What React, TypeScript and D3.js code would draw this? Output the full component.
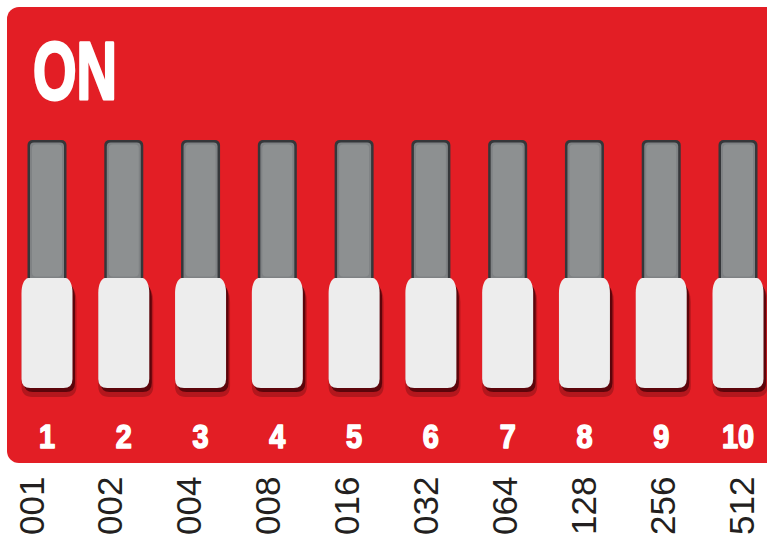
import { useEffect, useRef } from 'react';
import * as d3 from 'd3';

const switchNumbers = ['1', '2', '3', '4', '5', '6', '7', '8', '9', '10'];
const switchValues = ['001', '002', '004', '008', '016', '032', '064', '128', '256', '512'];
const boardLabel = 'ON';

const WIDTH = 767;
const HEIGHT = 536;
const BOLD_FONT = '"Liberation Sans", Arial, sans-serif';

function sliderPath(cx: number, y0: number, y1: number) {
  const hw = 25.5;
  const top = 19;
  const r = 9;
  const p = d3.path();
  p.moveTo(cx - top, y0);
  p.lineTo(cx + top, y0);
  p.bezierCurveTo(cx + 23, y0 + 1, cx + hw, y0 + 7, cx + hw, y0 + 15);
  p.lineTo(cx + hw, y1 - r);
  p.quadraticCurveTo(cx + hw, y1, cx + hw - r, y1);
  p.lineTo(cx - hw + r, y1);
  p.quadraticCurveTo(cx - hw, y1, cx - hw, y1 - r);
  p.lineTo(cx - hw, y0 + 15);
  p.bezierCurveTo(cx - hw, y0 + 7, cx - 23, y0 + 1, cx - top, y0);
  p.closePath();
  return p.toString();
}

export default function App() {
  const svgRef = useRef<SVGSVGElement>(null);

  useEffect(() => {
    if (!svgRef.current) return;
    const svg = d3.select(svgRef.current);
    svg.selectAll('*').remove();

    const x = d3.scalePoint<string>().domain(switchNumbers).range([47, 738]);
    const xLabel = d3.scalePoint<string>().domain(switchValues).range([31, 741]);

    // red board, runs off the right edge
    svg
      .append('rect')
      .attr('x', 7)
      .attr('y', 7)
      .attr('width', 800)
      .attr('height', 456)
      .attr('rx', 12)
      .attr('fill', '#e31e25');

    // heavy condensed title, thickened with a stroke
    svg
      .append('text')
      .attr('x', 33)
      .attr('y', 99)
      .attr('font-family', BOLD_FONT)
      .attr('font-weight', 900)
      .attr('font-size', 82)
      .attr('textLength', 84)
      .attr('lengthAdjust', 'spacingAndGlyphs')
      .attr('fill', '#ffffff')
      .attr('stroke', '#ffffff')
      .attr('stroke-width', 3)
      .attr('stroke-linejoin', 'round')
      .text(boardLabel);

    const sw = svg
      .selectAll('g.switch')
      .data(switchNumbers)
      .enter()
      .append('g')
      .attr('class', 'switch')
      .attr('transform', (d) => `translate(${x(d)},0)`);

    // track
    sw.append('rect')
      .attr('x', -19.5)
      .attr('y', 140)
      .attr('width', 39)
      .attr('height', 155)
      .attr('rx', 5)
      .attr('fill', '#35373a');
    sw.append('rect')
      .attr('x', -17)
      .attr('y', 142.5)
      .attr('width', 34)
      .attr('height', 150)
      .attr('rx', 4)
      .attr('fill', '#7f8284');
    sw.append('rect')
      .attr('x', -15)
      .attr('y', 144.5)
      .attr('width', 30)
      .attr('height', 132)
      .attr('rx', 4)
      .attr('fill', '#8d9091');

    // slider shadows
    sw.append('path')
      .attr('d', sliderPath(0, 280, 388))
      .attr('transform', 'translate(2,7)')
      .attr('fill', '#b3171d')
      .attr('stroke', '#b3171d')
      .attr('stroke-width', 4);
    sw.append('path')
      .attr('d', sliderPath(0, 280, 388))
      .attr('transform', 'translate(2.5,4)')
      .attr('fill', '#5c050b');

    // slider
    sw.append('path')
      .attr('d', sliderPath(0, 278, 388))
      .attr('fill', '#ededed');

    // switch numbers, condensed bold
    sw.append('text')
      .attr('transform', 'translate(0,448) scale(0.85,1)')
      .attr('text-anchor', 'middle')
      .attr('font-family', BOLD_FONT)
      .attr('font-weight', 900)
      .attr('font-size', 34)
      .attr('fill', '#ffffff')
      .attr('stroke', '#ffffff')
      .attr('stroke-width', 1.6)
      .attr('stroke-linejoin', 'round')
      .text((d) => d);

    // binary values below the board
    svg
      .selectAll('text.value')
      .data(switchValues)
      .enter()
      .append('text')
      .attr('class', 'value')
      .attr('transform', (d) => `translate(${xLabel(d)! + 12.5},535) rotate(-90)`)
      .attr('font-family', '"Liberation Sans", Arial, sans-serif')
      .attr('font-size', 35)
      .attr('fill', '#231f20')
      .text((d) => d);
  }, []);

  return (
    <svg
      ref={svgRef}
      width={WIDTH}
      height={HEIGHT}
      style={{ position: 'absolute', left: 0, top: 0, background: '#ffffff' }}
    ></svg>
  );
}
